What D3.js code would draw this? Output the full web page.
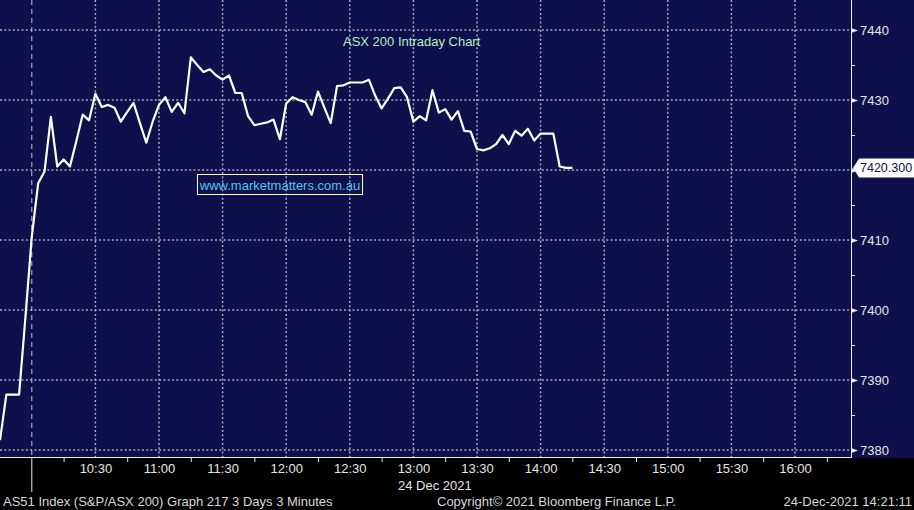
<!DOCTYPE html>
<html>
<head>
<meta charset="utf-8">
<script src="https://cdn.jsdelivr.net/npm/d3@7"></script>
<style>
  body { margin: 0; background: #000; }
  svg { display: block; }
  text { font-family: "Liberation Sans", Arial, sans-serif; }
</style>
</head>
<body>
<div id="chart"></div>
<script>
const W = 914, H = 510;
const plot = { left: 0, top: 0, right: 851, bottom: 457 };

// AS51 3-minute closes: tail of previous session, then 24 Dec 2021 from 10:00
const startMinute = -15;   // minutes relative to 10:00 for the first close
const stepMinutes = 3;
const closes = [
  7381.4, 7387.9, 7387.9, 7387.9, 7399.0,
  7410.5, 7418.1, 7419.8, 7427.6, 7420.5, 7421.5, 7420.5, 7424.1, 7427.9, 7427.1,
  7430.9, 7429.0, 7429.3, 7428.9, 7426.9, 7428.3, 7429.6, 7426.7, 7423.9, 7426.9,
  7429.3, 7430.4, 7428.3, 7429.6, 7428.1, 7436.1, 7435.0, 7434.0, 7434.4, 7433.5,
  7432.9, 7433.5, 7431.0, 7431.0, 7427.7, 7426.4, 7426.6, 7426.8, 7427.2, 7424.4,
  7429.5, 7430.4, 7430.0, 7429.7, 7427.9, 7431.2, 7428.9, 7426.7, 7432.0, 7432.1,
  7432.5, 7432.5, 7432.5, 7432.9, 7430.6, 7428.8, 7430.2, 7431.7, 7431.8, 7430.4,
  7426.9, 7427.7, 7427.1, 7431.4, 7428.2, 7428.7, 7427.2, 7428.4, 7425.6, 7425.5,
  7423.0, 7422.8, 7423.1, 7423.7, 7425.0, 7423.7, 7425.6, 7424.9, 7425.9, 7424.2,
  7425.2, 7425.2, 7425.2, 7420.5, 7420.3, 7420.3
];
const lastValue = 7420.300;

const yTicks = [7380, 7390, 7400, 7410, 7420, 7430, 7440];
const yMinorTicks = [7385, 7395, 7405, 7415, 7425, 7435];
const xTickLabels = ["10:30", "11:00", "11:30", "12:00", "12:30", "13:00", "13:30",
                     "14:00", "14:30", "15:00", "15:30", "16:00"];
const xMinorLabels = ["10:15", "10:45", "11:15", "11:45", "12:15", "12:45", "13:15",
                      "13:45", "14:15", "14:45", "15:15", "15:45", "16:15"];

const title = "ASX 200 Intraday Chart";
const watermark = "www.marketmatters.com.au";
const dateLabel = "24 Dec 2021";
const footerLeft = "AS51 Index (S&P/ASX 200) Graph 217 3 Days 3 Minutes";
const footerMid = "Copyright\u00A9 2021 Bloomberg Finance L.P.";
const footerRight = "24-Dec-2021 14:21:11";

const day = (hm) => {
  const [h, m] = hm.split(":").map(Number);
  return new Date(2021, 11, 24, h, m);
};
const open = day("10:00");
const data = closes.map((v, i) => ({
  t: new Date(open.getTime() + (startMinute + i * stepMinutes) * 60000),
  v: v
}));

const x = d3.scaleTime()
  .domain([day("10:00"), day("16:00")])
  .range([31.8, 31.8 + 12 * 63.6]);

const y = d3.scaleLinear()
  .domain([7380, 7440])
  .range([450, 30]);

const svg = d3.select("#chart").append("svg")
  .attr("width", W)
  .attr("height", H);

svg.append("rect").attr("width", W).attr("height", H).attr("fill", "#000");
svg.append("rect")
  .attr("width", W)
  .attr("height", plot.bottom + 1)
  .attr("fill", "#0f0f4b");

svg.append("clipPath").attr("id", "clip")
  .append("rect")
  .attr("x", plot.left).attr("y", plot.top)
  .attr("width", plot.right - plot.left).attr("height", plot.bottom - plot.top);

// grid
const grid = svg.append("g").attr("class", "grid");
grid.selectAll("line.h").data(yTicks).enter().append("line")
  .attr("x1", plot.left).attr("x2", plot.right)
  .attr("y1", d => y(d)).attr("y2", d => y(d))
  .attr("stroke", "#a8a8c0").attr("stroke-width", 1.5)
  .attr("stroke-dasharray", "2,2.3");
grid.selectAll("line.v").data(xTickLabels).enter().append("line")
  .attr("x1", d => x(day(d))).attr("x2", d => x(day(d)))
  .attr("y1", plot.top).attr("y2", plot.bottom)
  .attr("stroke", "#a8a8c0").attr("stroke-width", 1.5)
  .attr("stroke-dasharray", "2,2.3");

// session open separator
svg.append("line")
  .attr("x1", x(open)).attr("x2", x(open))
  .attr("y1", plot.top).attr("y2", plot.bottom)
  .attr("stroke", "#c4c4d4").attr("stroke-width", 1)
  .attr("stroke-dasharray", "5,4");
svg.append("line")
  .attr("x1", x(open)).attr("x2", x(open))
  .attr("y1", plot.bottom).attr("y2", 492)
  .attr("stroke", "#e8e8e8").attr("stroke-width", 1);

// price line
const line = d3.line().x(d => x(d.t)).y(d => y(d.v));
svg.append("path")
  .datum(data)
  .attr("clip-path", "url(#clip)")
  .attr("d", line)
  .attr("fill", "none")
  .attr("stroke", "#ffffff")
  .attr("stroke-width", 2.2)
  .attr("stroke-linejoin", "round");

// bottom axis
const xAxis = svg.append("g")
  .attr("transform", `translate(0,${plot.bottom})`)
  .call(d3.axisBottom(x)
    .tickValues(xTickLabels.map(day))
    .tickSize(0)
    .tickPadding(7)
    .tickFormat(d3.timeFormat("%H:%M")));
xAxis.select(".domain").remove();
xAxis.selectAll("text")
  .attr("fill", "#e6e6e6")
  .style("font-size", "13px")
  .style("font-family", "'Liberation Sans', Arial, sans-serif");

const xMinor = svg.append("g")
  .attr("transform", `translate(0,${plot.bottom})`)
  .call(d3.axisBottom(x).tickValues(xMinorLabels.map(day)).tickSize(5).tickFormat(""));
xMinor.select(".domain").remove();
xMinor.selectAll("line").attr("stroke", "#e6e6e6");

svg.append("line")
  .attr("x1", plot.left).attr("x2", plot.right)
  .attr("y1", plot.bottom + 0.5).attr("y2", plot.bottom + 0.5)
  .attr("stroke", "#f0f0f0").attr("stroke-width", 1);

svg.append("text")
  .attr("x", 398).attr("y", 490)
  .attr("fill", "#e6e6e6")
  .style("font-size", "13px")
  .text(dateLabel);

// right axis (the 7420 label sits under the last-value tag, so it is not drawn)
const yAxis = svg.append("g")
  .attr("transform", `translate(${plot.right},0)`)
  .call(d3.axisRight(y).tickValues(yTicks).tickSize(0).tickPadding(9)
    .tickFormat(d => Math.abs(d - lastValue) < 3 ? "" : d3.format("d")(d)));
yAxis.select(".domain").remove();
yAxis.selectAll("text")
  .attr("fill", "#e6e6e6")
  .style("font-size", "13px")
  .style("font-family", "'Liberation Sans', Arial, sans-serif");
yAxis.selectAll(".tick").append("path")
  .attr("d", "M0,-2.5L7,0L0,2.5Z")
  .attr("fill", "#f0f0f0");

const yMinor = svg.append("g")
  .attr("transform", `translate(${plot.right},0)`)
  .call(d3.axisRight(y).tickValues(yMinorTicks).tickSize(4).tickFormat(""));
yMinor.select(".domain").remove();
yMinor.selectAll("line").attr("stroke", "#e6e6e6");

svg.append("line")
  .attr("x1", plot.right + 0.5).attr("x2", plot.right + 0.5)
  .attr("y1", 0).attr("y2", plot.bottom + 1)
  .attr("stroke", "#f0f0f0").attr("stroke-width", 1);

// last value tag
const ly = y(lastValue);
svg.append("path")
  .attr("d", `M${plot.right + 2},${ly} L${plot.right + 8},${ly - 9.5} L${W},${ly - 9.5} L${W},${ly + 9.5} L${plot.right + 8},${ly + 9.5} Z`)
  .attr("fill", "#ffffff");
svg.append("text")
  .attr("x", 860).attr("y", ly + 4.5)
  .attr("fill", "#10103a")
  .style("font-size", "12.5px")
  .text(d3.format(".3f")(lastValue));

// title
svg.append("text")
  .attr("x", 343).attr("y", 46)
  .attr("fill", "#b4eec4")
  .style("font-size", "13px")
  .text(title);

// watermark
svg.append("rect")
  .attr("x", 197.5).attr("y", 174.5)
  .attr("width", 165).attr("height", 20)
  .attr("fill", "none")
  .attr("stroke", "#ffffff").attr("stroke-width", 1);
svg.append("text")
  .attr("x", 280).attr("y", 190)
  .attr("text-anchor", "middle")
  .attr("fill", "#4fc6ee")
  .style("font-size", "13px")
  .text(watermark);

// footer
const foot = svg.append("g")
  .attr("fill", "#d8d8d8")
  .style("font-size", "13px");
foot.append("text").attr("x", 3).attr("y", 506).text(footerLeft);
foot.append("text").attr("x", 437).attr("y", 506).text(footerMid);
foot.append("text").attr("x", 912).attr("y", 506).attr("text-anchor", "end").text(footerRight);
</script>
</body>
</html>
